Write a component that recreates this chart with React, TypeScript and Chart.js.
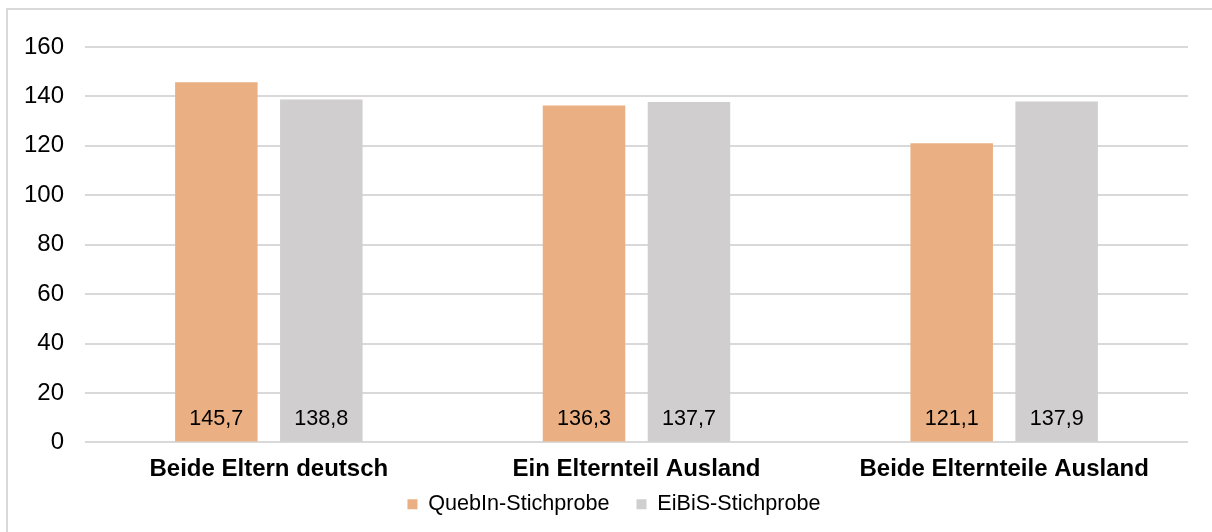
import React, { useEffect, useRef } from "react";
import { Chart, registerables } from "chart.js";

Chart.register(...registerables);

const categories = ["Beide Eltern deutsch", "Ein Elternteil Ausland", "Beide Elternteile Ausland"];
const seriesNames = ["QuebIn-Stichprobe", "EiBiS-Stichprobe"];
const quebinValues = [145.7, 136.3, 121.1];
const eibisValues = [138.8, 137.7, 137.9];
const seriesColors = ["#EAB084", "#D0CECE"];
const yTickMin = 0;
const yTickMax = 160;
const yTickStep = 20;

const FONT = "'Liberation Sans', Arial, sans-serif";

const framePlugin = {
  id: "frame",
  beforeDraw(chart: any) {
    const ctx = chart.ctx;
    ctx.save();
    ctx.fillStyle = "#ffffff";
    ctx.fillRect(0, 0, chart.width, chart.height);
    ctx.strokeStyle = "#d9d9d9";
    ctx.lineWidth = 2;
    ctx.strokeRect(7, 9, 1210, 530);
    ctx.restore();
  },
};

const valueLabelPlugin = {
  id: "valueLabels",
  afterDatasetsDraw(chart: any) {
    const ctx = chart.ctx;
    ctx.save();
    ctx.font = `21.6px ${FONT}`;
    ctx.fillStyle = "#000000";
    ctx.textAlign = "center";
    ctx.textBaseline = "middle";
    chart.data.datasets.forEach((ds: any, di: number) => {
      const meta = chart.getDatasetMeta(di);
      meta.data.forEach((bar: any, i: number) => {
        const v = ds.data[i] as number;
        const txt = v.toFixed(1).replace(".", ",");
        ctx.fillText(txt, bar.x, bar.base - 22);
      });
    });
    ctx.restore();
  },
};

const layoutTweakPlugin = {
  id: "layoutTweak",
  afterLayout(chart: any) {
    if (chart.legend) {
      chart.legend.left += 20;
      chart.legend.right += 20;
    }
    const x = chart.scales.x;
    if (x) {
      x.bottom = x.top + 50;
    }
  },
};

export default function App() {
  const canvasRef = useRef<HTMLCanvasElement | null>(null);

  useEffect(() => {
    if (!canvasRef.current) return;
    const chart = new Chart(canvasRef.current, {
      type: "bar",
      data: {
        labels: categories,
        datasets: [
          {
            label: seriesNames[0],
            data: quebinValues,
            backgroundColor: seriesColors[0],
            borderWidth: 0,
            categoryPercentage: 0.571,
            barPercentage: 0.786,
          },
          {
            label: seriesNames[1],
            data: eibisValues,
            backgroundColor: seriesColors[1],
            borderWidth: 0,
            categoryPercentage: 0.571,
            barPercentage: 0.786,
          },
        ],
      },
      options: {
        responsive: false,
        animation: false,
        devicePixelRatio: 1,
        layout: { padding: { left: 0, right: 24, top: 47, bottom: 7 } },
        plugins: {
          tooltip: { enabled: false },
          legend: {
            display: true,
            position: "bottom",
            labels: {
              boxWidth: 10,
              boxHeight: 10,
              padding: 27,
              color: "#000000",
              font: { size: 21.6, family: FONT },
            },
          },
        },
        scales: {
          x: {
            grid: { display: false, drawTicks: false },
            border: { display: false },
            ticks: {
              color: "#000000",
              padding: 13,
              font: { size: 24, weight: "bold", family: FONT },
              maxRotation: 0,
            },
            afterFit: (scale: any) => {
              scale.height = 24;
            },
          },
          y: {
            min: yTickMin,
            max: yTickMax,
            grid: { color: "#d9d9d9", lineWidth: 2, drawTicks: false },
            border: { display: false },
            ticks: {
              stepSize: yTickStep,
              color: "#000000",
              padding: 21,
              font: { size: 24, family: FONT },
            },
            afterFit: (scale: any) => {
              scale.width = 85;
            },
          },
        },
      },
      plugins: [framePlugin, valueLabelPlugin, layoutTweakPlugin],
    });
    return () => chart.destroy();
  }, []);

  return (
    <div style={{ position: "absolute", left: 0, top: 0, width: 1212, height: 532 }}>
      <canvas ref={canvasRef} width={1212} height={532} />
    </div>
  );
}
